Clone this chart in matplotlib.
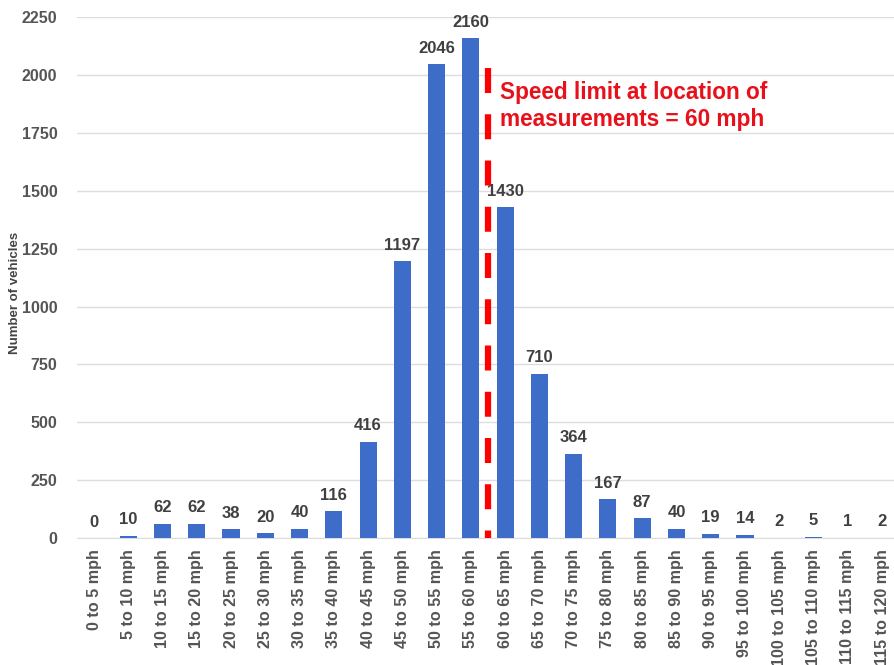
import numpy as np
import matplotlib
matplotlib.use("Agg")
import matplotlib.pyplot as plt

plt.rcParams['font.family'] = ['Liberation Sans', 'DejaVu Sans']

speed_bins = ["0 to 5 mph", "5 to 10 mph", "10 to 15 mph", "15 to 20 mph", "20 to 25 mph",
              "25 to 30 mph", "30 to 35 mph", "35 to 40 mph", "40 to 45 mph", "45 to 50 mph",
              "50 to 55 mph", "55 to 60 mph", "60 to 65 mph", "65 to 70 mph", "70 to 75 mph",
              "75 to 80 mph", "80 to 85 mph", "85 to 90 mph", "90 to 95 mph", "95 to 100 mph",
              "100 to 105 mph", "105 to 110 mph", "110 to 115 mph", "115 to 120 mph"]
vehicles = [0, 10, 62, 62, 38, 20, 40, 116, 416, 1197, 2046, 2160, 1430, 710, 364,
            167, 87, 40, 19, 14, 2, 5, 1, 2]
y_ticks = [0, 250, 500, 750, 1000, 1250, 1500, 1750, 2000, 2250]
limit_note = "Speed limit at location of\nmeasurements = 60 mph"

fig = plt.figure(figsize=(8.94, 6.65), dpi=100)
ax = fig.add_axes([0.086, 0.191, 0.914, 0.783])

x = np.arange(len(speed_bins))
ax.bar(x, vehicles, width=0.5, color="#3D6CC9", zorder=3)

for xi, v in zip(x, vehicles):
    ax.annotate(str(v), (xi, v), xytext=(0, 6), textcoords="offset points",
                ha="center", va="bottom", fontsize=12, fontweight="bold", color="#404040")

# speed limit marker between 55-60 and 60-65, drawn top-down so the dash pattern starts at top
ax.plot([11.5, 11.5], [2030, 0], color="#FF0000", lw=4.5, ls=(0, (4.0, 3.4)), zorder=4)
ax.text(11.85, 1975, limit_note, color="#E8101A", fontsize=16.3, fontweight="bold",
        va="top", ha="left", linespacing=1.2)

ax.set_xlim(-0.5, 23.35)
ax.set_ylim(0, 2250)
ax.set_yticks(y_ticks)
ax.set_xticks(x)
ax.set_xticklabels(speed_bins, rotation=90, fontsize=11.6, fontweight="bold", color="#555555")
for lab in ax.get_yticklabels():
    lab.set_fontweight("bold")
    lab.set_color("#555555")
    lab.set_fontsize(11.5)
ax.tick_params(axis="y", length=0, pad=14)
ax.tick_params(axis="x", length=0, pad=8)
ax.grid(axis="y", color="#DDDDDD", lw=1, zorder=0)
for s in ["top", "right", "left"]:
    ax.spines[s].set_visible(False)
ax.spines["bottom"].set_color("#DDDDDD")
ax.set_ylabel("Number of vehicles", fontsize=9.5, fontweight="bold", color="#444444")
ax.yaxis.set_label_coords(-0.068, 0.47)

plt.savefig("out.png", dpi=100)
